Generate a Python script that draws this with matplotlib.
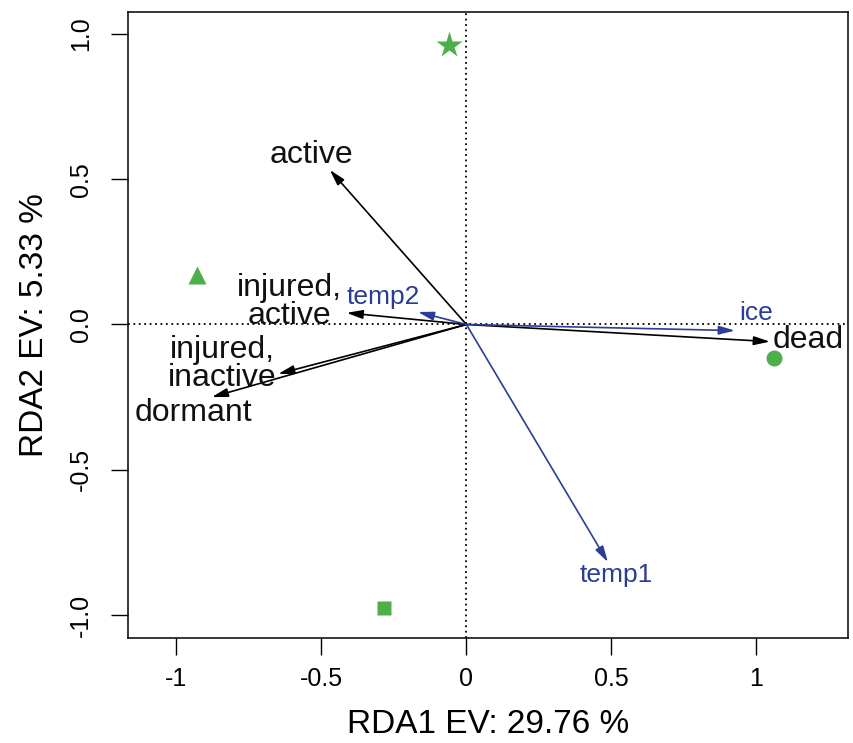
import matplotlib
matplotlib.use("Agg")
import matplotlib.pyplot as plt

plt.rcParams["font.family"] = ["Liberation Sans", "DejaVu Sans"]

GREEN = "#4DAF4A"
BLUE = "#2B3D94"

# site scores (green symbols)
site_x = [-0.060, -0.930, 1.060, -0.284]
site_y = [0.962, 0.170, -0.115, -0.976]
site_markers = ["*", "^", "o", "s"]
site_sizes = [20, 13, 11.5, 10]

# response arrows (black)
resp_names = ["active", "injured,\nactive", "injured,\ninactive", "dormant", "dead"]
resp_x = [-0.471, -0.413, -0.649, -0.878, 1.047]
resp_y = [0.532, 0.040, -0.170, -0.250, -0.059]
resp_lab_x = [-0.533, -0.609, -0.843, -0.943, 1.178]
resp_lab_y = [0.583, 0.077, -0.136, -0.305, -0.053]

# explanatory arrows (blue)
env_names = ["temp2", "ice", "temp1"]
env_x = [-0.167, 0.926, 0.488]
env_y = [0.043, -0.021, -0.818]
env_lab_x = [-0.288, 0.998, 0.516]
env_lab_y = [0.095, 0.040, -0.862]

x_ticks = [-1, -0.5, 0, 0.5, 1]
x_tick_labels = ["-1", "-0.5", "0", "0.5", "1"]
y_ticks = [-1.0, -0.5, 0.0, 0.5, 1.0]
y_tick_labels = ["-1.0", "-0.5", "0.0", "0.5", "1.0"]


def draw_arrow(ax, x, y, color):
    ax.annotate(
        "",
        xy=(x, y),
        xytext=(0, 0),
        arrowprops=dict(
            arrowstyle="-|>,head_length=0.8,head_width=0.22",
            color=color,
            lw=1.2,
            mutation_scale=12,
            shrinkA=0,
            shrinkB=0,
        ),
    )


def main() -> None:
    fig = plt.figure(figsize=(8.54, 7.43), dpi=100)
    ax = fig.add_axes([0.1499, 0.1413, 0.843, 0.8432])

    ax.axvline(0, color="black", ls=(0, (1, 2)), lw=1.3)
    ax.axhline(0, color="black", ls=(0, (1, 2)), lw=1.3)

    for x, y, m, s in zip(site_x, site_y, site_markers, site_sizes):
        ax.plot(x, y, marker=m, markersize=s, color=GREEN, mec="none", ls="none")

    for x, y in zip(resp_x, resp_y):
        draw_arrow(ax, x, y, "black")
    for name, x, y in zip(resp_names, resp_lab_x, resp_lab_y):
        ax.text(x, y, name, fontsize=23, ha="center", va="center", linespacing=0.9, color="#111111")

    for x, y in zip(env_x, env_y):
        draw_arrow(ax, x, y, BLUE)
    for name, x, y in zip(env_names, env_lab_x, env_lab_y):
        ax.text(x, y, name, fontsize=19, ha="center", va="center", color=BLUE)

    ax.set_xlim(-1.167, 1.316)
    ax.set_ylim(-1.079, 1.077)
    ax.set_xticks(x_ticks)
    ax.set_xticklabels(x_tick_labels)
    ax.set_yticks(y_ticks)
    ax.set_yticklabels(y_tick_labels, rotation=90, va="center")
    ax.tick_params(direction="out", length=12, width=1, labelsize=18)
    ax.tick_params(axis="x", pad=9)
    ax.tick_params(axis="y", pad=13)
    for sp in ax.spines.values():
        sp.set_linewidth(1.1)

    ax.set_xlabel("RDA1 EV: 29.76 %", fontsize=24, labelpad=13)
    ax.set_ylabel("RDA2 EV: 5.33 %", fontsize=24, labelpad=14)

    fig.savefig("out.png", dpi=100)
    plt.close(fig)


if __name__ == "__main__":
    main()
